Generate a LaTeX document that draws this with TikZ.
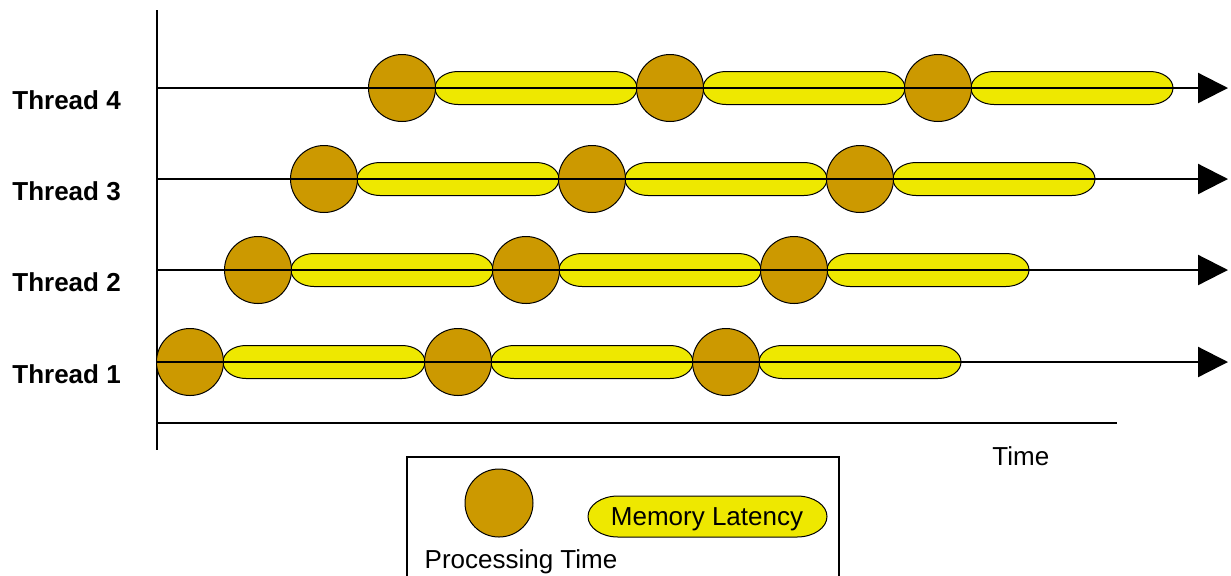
\documentclass[tikz,border=0pt]{standalone}
\usepackage{fontspec}
\setmainfont{Liberation Sans}
\usepackage{tikz}
\usetikzlibrary{arrows.meta,positioning}
\definecolor{procbrown}{RGB}{204,153,0}
\definecolor{latyellow}{RGB}{238,232,0}
\newcommand\Rx{23}
\newcommand\Ry{16.5}
\newcommand\Gap{268}
\tikzset{
  proc/.style={
    shape = circle,
    draw,
    fill = procbrown,
    inner sep = 0pt,
    line width = 0.5pt,
    minimum size = 33.5pt
  },
  latency/.style={
    draw,
    fill = latyellow,
    line width = 0.5pt
  },
  thread/.style={
    line width = 1.1pt,
    -{Triangle[length=15pt,width=15pt]}
  },
  axis/.style={
    line width = 1pt
  },
  threadlabel/.style={
    anchor = base west,
    inner sep = 0pt,
    font = \fontsize{13}{15}\selectfont\bfseries
  },
  plain/.style={
    inner sep = 0pt,
    font = \fontsize{13}{15}\selectfont
  }
}
% pill with elliptic ends: x0, x1, y, x radius, y radius
\newcommand\Latency[5]{%
  \draw[latency] (#1+#4,#3-#5) -- (#2-#4,#3-#5)
    arc[start angle=-90,end angle=90,x radius=#4,y radius=#5]
    -- (#1+#4,#3+#5)
    arc[start angle=90,end angle=270,x radius=#4,y radius=#5] -- cycle;}
\begin{document}
\begin{tikzpicture}[x=0.5pt,y=-0.5pt]
  \useasboundingbox (0,0) rectangle (1231,575);

  % axes
  \coordinate (top) at (157,10);
  \coordinate (origin) at (157,450);
  \coordinate (xaxisl) at (157,423);
  \coordinate (xaxisr) at (1117,423);
  \draw[axis] (top) -- (origin);
  \draw[axis] (xaxisl) -- (xaxisr);

  % threads
  \foreach \n/\y/\c in {1/362/190, 2/270/258, 3/179/324, 4/88/402}{
    \foreach \k in {0,1,2}{
      \pgfmathsetmacro\xa{\c+\Gap*\k+33}
      \pgfmathsetmacro\xb{\c+\Gap*\k+235}
      \Latency{\xa}{\xb}{\y}{\Rx}{\Ry}
      \node[proc] (p\n\k) at (\c+\Gap*\k,\y) {};
    }
    \coordinate (s\n) at (157,\y);
    \coordinate (e\n) at (1228,\y);
    \draw[thread] (s\n) -- (e\n);
    \node[threadlabel] (lab\n) at (12,\y+21) {Thread \n};
  }

  \node[plain, anchor=base west] (time) at (992,465) {Time};

  % legend
  \coordinate (lgbl) at (407,576);
  \coordinate (lgtl) at (407,457);
  \coordinate (lgtr) at (839,457);
  \coordinate (lgbr) at (839,576);
  \draw[line width=0.8pt] (lgbl) -- (lgtl) -- (lgtr) -- (lgbr);
  \node[proc, minimum size=34pt] (lgproc) at (499,503) {};
  \node[plain, anchor=base] (lgproctext) at (521,568) {Processing Time};
  \Latency{588}{827}{516.5}{30}{20.5}
  \node[plain, anchor=base] (lglat) at (707,525) {Memory Latency};
\end{tikzpicture}
\end{document}
